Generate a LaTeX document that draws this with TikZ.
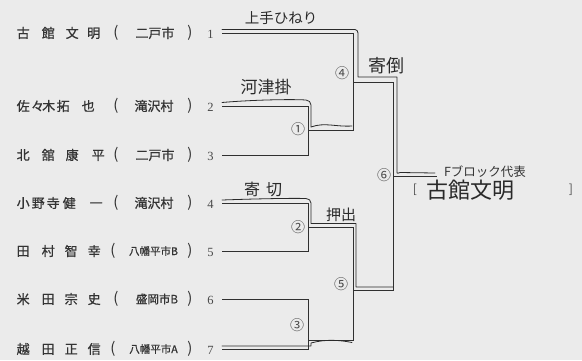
\documentclass[tikz,border=0pt]{standalone}
\usepackage{fontspec}
\setmainfont{Liberation Serif}
\newfontfamily\jp{Noto Sans CJK JP}
\newfontfamily\jpb[FakeBold=0.8]{Noto Sans CJK JP}
\definecolor{bgc}{HTML}{EBEBEB}
\definecolor{txtc}{HTML}{333333}
\definecolor{numc}{HTML}{4A4A4A}
\definecolor{linec}{HTML}{303030}
\definecolor{handc}{HTML}{2A2A2A}
\begin{document}
\begin{tikzpicture}[x=1pt,y=-1pt,
  pline/.style={draw=linec, line width=1pt},
  hline/.style={draw=handc, line width=0.8pt, line join=round, line cap=round},
  nm/.style={font=\jpb\fontsize{13}{13}\selectfont, text=txtc, inner sep=0pt, anchor=west},
  af/.style={font=\jpb\fontsize{13}{13}\selectfont, text=txtc, inner sep=0pt},
  par/.style={font=\jp\fontsize{15}{15}\selectfont, text=txtc, inner sep=0pt},
  afs/.style={font=\jpb\fontsize{10.5}{10.5}\selectfont, text=txtc, inner sep=0pt},
  num/.style={font=\fontsize{12.5}{12.5}\selectfont, text=numc, inner sep=0pt},
  circ/.style={font=\jp\fontsize{14}{14}\selectfont, text=numc, inner sep=0pt},
  hw/.style={font=\jp\fontsize{#1}{#1}\selectfont, text=handc, inner sep=0pt},
  hw/.default=16]
\fill[bgc] (0,0) rectangle (582,360);
\useasboundingbox (0,0) rectangle (582,360);

% ---- player names ----
\node[nm] (n1) at (16.5,33) {\makebox[25pt][l]{古}\makebox[24pt][l]{館}\makebox[21.5pt][l]{文}明};
\node[nm] (n2) at (16.5,106) {\makebox[14.5pt][l]{佐}\makebox[11pt][l]{々}\makebox[14.5pt][l]{木}\makebox[25pt][l]{拓}也};
\node[nm] (n3) at (16.5,155) {\makebox[25pt][l]{北}\makebox[24pt][l]{舘}\makebox[26pt][l]{康}平};
\node[nm] (n4) at (16.5,203) {\makebox[15pt][l]{小}\makebox[15pt][l]{野}\makebox[16pt][l]{寺}\makebox[27pt][l]{健}一};
\node[nm] (n5) at (16.5,251) {\makebox[25pt][l]{田}\makebox[23pt][l]{村}\makebox[23pt][l]{智}幸};
\node[nm] (n6) at (16.5,299) {\makebox[25pt][l]{米}\makebox[23pt][l]{田}\makebox[23pt][l]{宗}史};
\node[nm] (n7) at (16.5,349) {\makebox[25pt][l]{越}\makebox[23pt][l]{田}\makebox[23pt][l]{正}信};

% ---- affiliations ----
\node[par] (po1) at (116,33) {(};  \node[af] (a1) at (155,33) {二戸市};  \node[par] (pc1) at (190,33) {)};
\node[par] (po2) at (116,106) {(}; \node[af] (a2) at (154,106) {滝沢村}; \node[par] (pc2) at (190,106) {)};
\node[par] (po3) at (116,155) {(}; \node[af] (a3) at (155,155) {二戸市}; \node[par] (pc3) at (190,155) {)};
\node[par] (po4) at (116,203) {(}; \node[af] (a4) at (154,203) {滝沢村}; \node[par] (pc4) at (190,203) {)};
\node[par] (po5) at (113,251) {(}; \node[afs] (a5) at (153.5,251) {八幡平市B}; \node[par] (pc5) at (190,251) {)};
\node[par] (po6) at (116,299) {(}; \node[afs,font=\jpb\fontsize{11.5}{11.5}\selectfont] (a6) at (157,299) {盛岡市B}; \node[par] (pc6) at (190,299) {)};
\node[par] (po7) at (113,349) {(}; \node[afs] (a7) at (153.5,349) {八幡平市A}; \node[par] (pc7) at (190,349) {)};

% ---- seed numbers ----
\node[num] (k1) at (210.5,34) {1};
\node[num] (k2) at (210.5,107) {2};
\node[num] (k3) at (210.5,156) {3};
\node[num] (k4) at (210.5,204) {4};
\node[num] (k5) at (210.5,252) {5};
\node[num] (k6) at (210.5,300) {6};
\node[num] (k7) at (210.5,350) {7};

% ---- bracket coordinates ----
\coordinate (s1) at (222,33);  \coordinate (s2) at (222,106); \coordinate (s3) at (222,155);
\coordinate (s4) at (222,203); \coordinate (s5) at (222,251); \coordinate (s6) at (222,299);
\coordinate (s7) at (222,349);
\coordinate (b2) at (308,106); \coordinate (b3) at (308,155); \coordinate (m1) at (308,130);
\coordinate (b4) at (308,203); \coordinate (b5) at (308,251); \coordinate (m2) at (308,227);
\coordinate (b6) at (308,299); \coordinate (b7) at (308,349); \coordinate (m3) at (308,340);
\coordinate (c1) at (353,33);  \coordinate (c1b) at (353,130); \coordinate (m4) at (353,82);
\coordinate (c2) at (353,227); \coordinate (c3) at (353,340); \coordinate (m5) at (353,290);
\coordinate (d4) at (393,82);  \coordinate (d5) at (393,290); \coordinate (m6) at (393,176);
\coordinate (fin) at (437,176);

% ---- printed bracket ----
\draw[pline] (s1) -- (c1) -- (c1b) -- (m1);
\draw[pline] (s2) -- (b2) -- (b3) -- (s3);
\draw[pline] (s4) -- (b4) -- (b5) -- (s5);
\draw[pline] (s6) -- (b6) -- (b7) -- (s7);
\draw[pline] (m2) -- (c2) -- (c3) -- (m3);
\draw[pline] (m4) -- (d4) -- (d5) -- (m5);
\draw[pline] (m6) -- (fin);

% ---- circled match numbers ----
\node[circ] (r1) at (298,129) {①};
\node[circ] (r2) at (298,227) {②};
\node[circ] (r3) at (297,325) {③};
\node[circ] (r4) at (342,73) {④};
\node[circ] (r5) at (341,284) {⑤};
\node[circ] (r6) at (384,175) {⑥};

% ---- handwritten winner lines ----
\coordinate (w1a) at (222,29.5); \coordinate (w1b) at (355,29.5);
\coordinate (w1c) at (358,77);  \coordinate (w1d) at (397,77); \coordinate (w1e) at (397,173);
\coordinate (w1f) at (435,173);
\draw[hline] (w1a) -- (w1b) to[out=0,in=90] (358,33) -- (w1c) -- (w1d) -- (w1e) to[out=-90,in=180] (400,172.5) -- (w1f);
\coordinate (w2a) at (222,102.5); \coordinate (w2b) at (311,127); \coordinate (w2c) at (352,126);
\draw[hline] (w2a) .. controls (250,100) and (290,99) .. (306,100) to[out=0,in=90] (311,105) -- (w2b)
  .. controls (325,122) and (335,127) .. (w2c);
\coordinate (w4a) at (222,200); \coordinate (w4b) at (311,223.5); \coordinate (w4c) at (356,223.5);
\coordinate (w4d) at (356,287); \coordinate (w4e) at (393,287);
\draw[hline] (w4a) .. controls (250,199) and (290,198) .. (306,198.5) to[out=0,in=90] (311,203) -- (w4b) -- (w4c) -- (w4d) -- (w4e);
\coordinate (w7a) at (222,346); \coordinate (w7b) at (311,346); \coordinate (w7c) at (352,342.5);
\draw[hline] (w7a) -- (w7b) -- (311,343) .. controls (325,339) and (340,340) .. (w7c);

% ---- handwritten technique labels ----
\node[hw=14.5] (t1) at (281,18) {上手ひねり};
\node[hw=17] (t2) at (266,87) {河津掛};
\node[hw=16] (t3) at (263,189) {寄\hspace{6pt}切};
\node[hw=15] (t4) at (341,215) {押出};
\node[hw=18] (t5) at (386,66) {寄倒};

% ---- block representative ----
\node[font=\jp\fontsize{12.5}{12.5}\selectfont, text=txtc, inner sep=0pt] (rep) at (485,172) {Fブロック代表};
\node[font=\jp\fontsize{12}{12}\selectfont, text=numc, inner sep=0pt] (bo) at (415,190) {[};
\node[hw=22] (win) at (470,190) {古館文明};
\node[font=\jp\fontsize{12}{12}\selectfont, text=numc, inner sep=0pt] (bc) at (571,190) {]};
\end{tikzpicture}
\end{document}
